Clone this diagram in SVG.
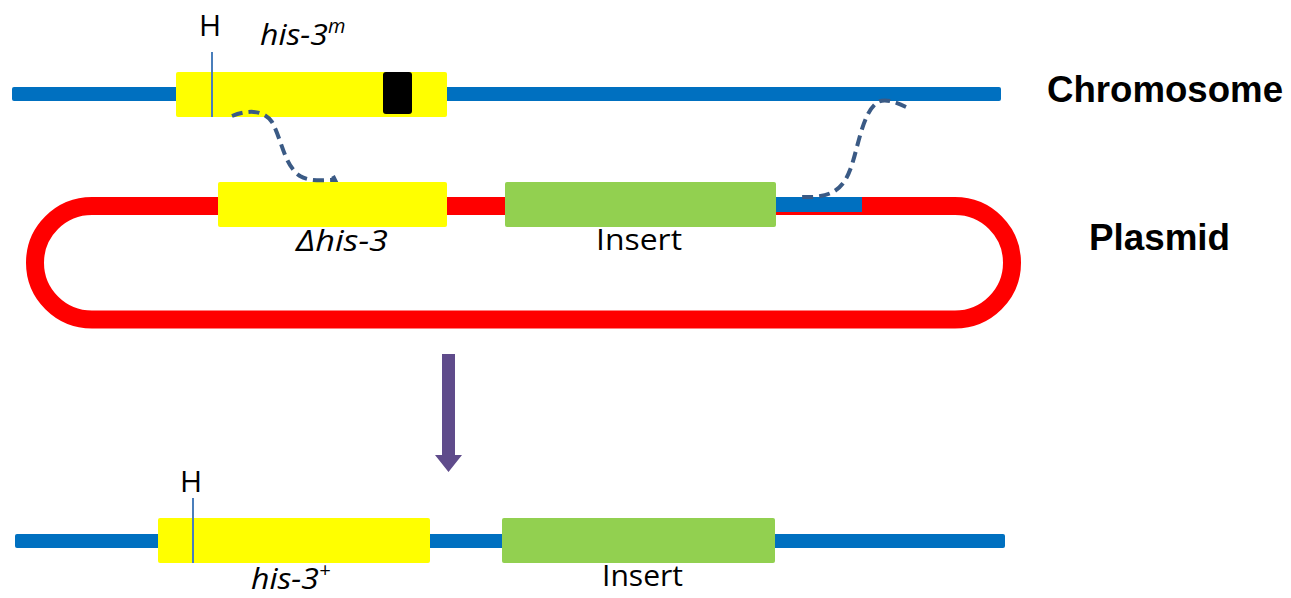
<svg xmlns="http://www.w3.org/2000/svg" width="1291" height="598" viewBox="0 0 1291 598">
<style>
.chr{fill:#0070C0}
.yel{fill:#FFFF00}
.grn{fill:#92D050}
.lbl{font-family:"Open Sans","Liberation Sans",sans-serif;font-size:30px;fill:#000}
.it{font-style:italic}
.big{font-family:"Liberation Sans",Arial,sans-serif;font-weight:bold;font-size:36px;fill:#000}
.hmark{stroke:#4A7EBB;stroke-width:2}
.dash{fill:none;stroke:#3A5A85;stroke-width:4;stroke-dasharray:11,6;stroke-linecap:butt}
</style>
<rect width="1291" height="598" fill="#fff"/>
<g id="chromosome">
<rect class="chr" x="12" y="87" width="989" height="14" rx="2"/>
<rect class="yel" x="176" y="72" width="271" height="45" rx="2"/>
<rect x="383" y="72" width="29" height="42" rx="3" fill="#000"/>
<line class="hmark" x1="212" y1="52" x2="212" y2="117"/>
<text class="lbl" x="199" y="36" font-size="33">H</text>
<text class="lbl it" x="260" y="45" font-size="31"><tspan textLength="68" lengthAdjust="spacingAndGlyphs">his-3</tspan><tspan font-size="20" dy="-12">m</tspan></text>
<text class="big" x="1047" y="102" textLength="236" lengthAdjust="spacingAndGlyphs">Chromosome</text>
</g>
<g id="plasmid">
<rect x="35" y="206" width="977" height="113.5" rx="57" ry="57" fill="none" stroke="#FF0000" stroke-width="18"/>
<rect class="chr" x="776" y="197" width="86" height="15"/>
<rect class="yel" x="218" y="182" width="229" height="45" rx="2"/>
<rect class="grn" x="505" y="182" width="271" height="45" rx="2"/>
<text class="lbl it" x="296" y="251" font-size="31" textLength="92" lengthAdjust="spacingAndGlyphs">Δhis-3</text>
<text class="lbl" x="596" y="250" textLength="86" lengthAdjust="spacingAndGlyphs">Insert</text>
<text class="big" x="1089" y="250" textLength="141" lengthAdjust="spacingAndGlyphs">Plasmid</text>
</g>
<g id="connectors">
<path class="dash" d="M232,116 C245,111 262,108 272,122 C282,140 284,165 300,176 C310,182 325,180 335,180 L333,176"/>
<path class="dash" d="M906,107 C895,102 885,98 878,102 C862,112 858,150 850,170 C842,192 828,196 812,197 L801,197 L803,193"/>
<path d="M442,354 H455 V455 H462 L448.5,472 L435,455 H442 Z" fill="#5F4B8B"/>
</g>
<g id="result">
<rect class="chr" x="15" y="534" width="990" height="14" rx="2"/>
<rect class="yel" x="158" y="518" width="272" height="45" rx="2"/>
<rect class="grn" x="502" y="518" width="273" height="45" rx="2"/>
<line class="hmark" x1="193" y1="498" x2="193" y2="563"/>
<text class="lbl" x="180" y="492" font-size="33">H</text>
<text class="lbl it" x="251" y="589" font-size="30"><tspan textLength="68" lengthAdjust="spacingAndGlyphs">his-3</tspan><tspan font-size="20" dy="-12">+</tspan></text>
<text class="lbl" x="602" y="586" textLength="81" lengthAdjust="spacingAndGlyphs">Insert</text>
</g>
</svg>
